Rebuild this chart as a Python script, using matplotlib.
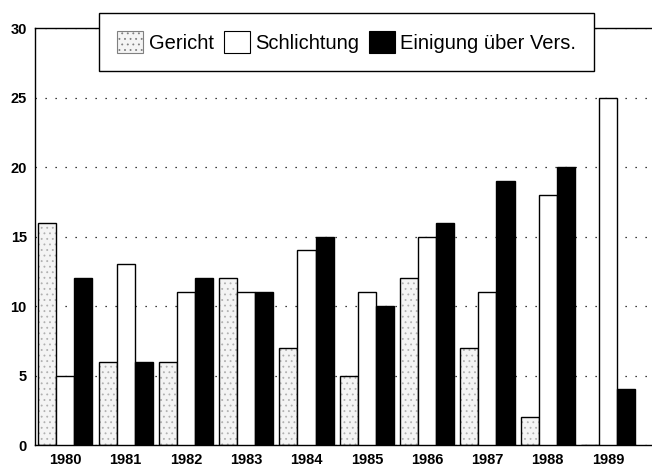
import numpy as np
import matplotlib.pyplot as plt
from matplotlib.patches import Patch

plt.rcParams['font.family'] = ['Liberation Sans', 'DejaVu Sans']
plt.rcParams['hatch.linewidth'] = 0.6

jahre = ['1980', '1981', '1982', '1983', '1984', '1985', '1986', '1987', '1988', '1989']
gericht = [16, 6, 6, 12, 7, 5, 12, 7, 2, 0]
schlichtung = [5, 13, 11, 11, 14, 11, 15, 11, 18, 25]
einigung = [12, 6, 12, 11, 15, 10, 16, 19, 20, 4]

fig = plt.figure(figsize=(6.52, 4.67), dpi=100)
ax = fig.add_axes([0.054, 0.047, 0.946, 0.893])

x = np.arange(len(jahre))
w = 0.3

# Gericht: stippled grey fill, drawn twice so the hatch can be grey and the outline black
ax.bar(x - w, gericht, width=w, facecolor='#f4f4f4', edgecolor='#b0b0b0', hatch='...',
       linewidth=0, zorder=2)
ax.bar(x - w, gericht, width=w, fill=False, edgecolor='black', linewidth=1.0, zorder=3)
ax.bar(x, schlichtung, width=w, facecolor='white', edgecolor='black', linewidth=1.0, zorder=3)
ax.bar(x + w, einigung, width=w, facecolor='black', edgecolor='black', linewidth=1.0, zorder=3)

# legend proxies
h1 = Patch(facecolor='#f4f4f4', edgecolor='#808080', hatch='...', linewidth=0.8)
h2 = Patch(facecolor='white', edgecolor='black', linewidth=0.8)
h3 = Patch(facecolor='black', edgecolor='black', linewidth=0.8)
leg = ax.legend([h1, h2, h3], ['Gericht', 'Schlichtung', 'Einigung über Vers.'],
                loc='upper center', bbox_to_anchor=(0.505, 1.036), ncol=3,
                frameon=True, fancybox=False, edgecolor='black', framealpha=1,
                fontsize=14.5, handlelength=1.3, handleheight=1.3, handletextpad=0.25,
                columnspacing=0.5, borderpad=0.9, borderaxespad=0)
leg.get_frame().set_linewidth(1.0)
leg.set_zorder(5)

ax.set_xlim(-0.5, 9.73)
ax.set_ylim(0, 30)
ax.set_yticks([0, 5, 10, 15, 20, 25, 30])
ax.set_xticks(x)
ax.set_xticklabels(jahre)
ax.yaxis.grid(True, linestyle=(0, (1, 7)), color='black', linewidth=0.9, zorder=1)
ax.set_axisbelow(True)

ax.spines['right'].set_visible(False)
for s in ['left', 'top', 'bottom']:
    ax.spines[s].set_linewidth(1.0)

ax.tick_params(axis='both', length=0, labelsize=10.5, pad=6)
for lab in ax.get_xticklabels() + ax.get_yticklabels():
    lab.set_fontweight('bold')

fig.savefig('out.png', dpi=100)
